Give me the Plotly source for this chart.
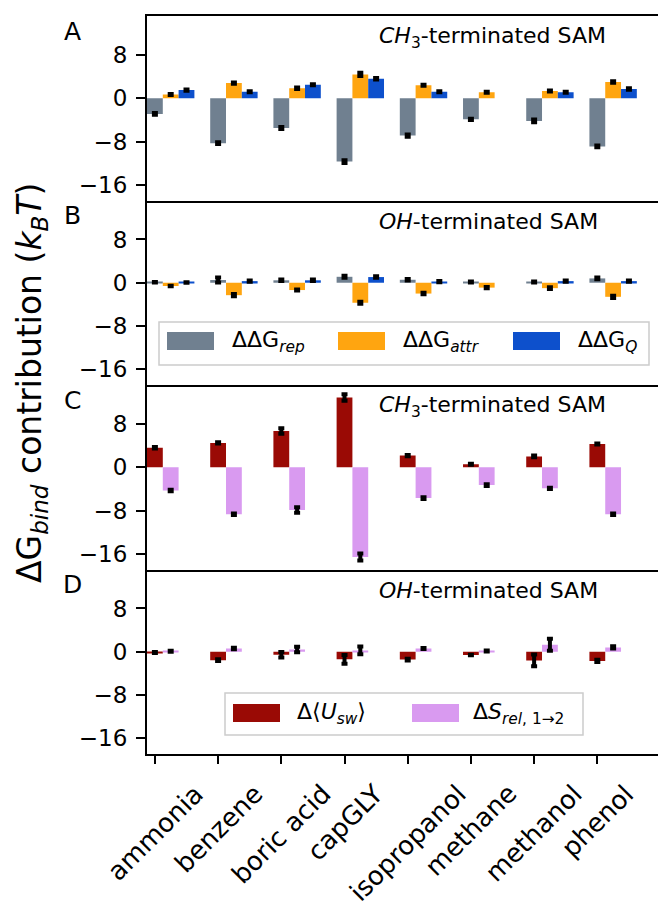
import plotly.graph_objects as go
from plotly.subplots import make_subplots

# ---------------- data ----------------
categories = ["ammonia", "benzene", "boric acid", "capGLY",
              "isopropanol", "methane", "methanol", "phenol"]

# Panel A: CH3-terminated SAM decomposition
A_rep = [-2.9, -8.3, -5.5, -11.7, -6.9, -3.9, -4.2, -8.9]
A_rep_err = [0.15, 0.15, 0.2, 0.25, 0.2, 0.1, 0.25, 0.15]
A_attr = [0.7, 2.8, 1.85, 4.4, 2.4, 1.1, 1.35, 3.0]
A_attr_err = [0.1, 0.1, 0.15, 0.3, 0.1, 0.1, 0.1, 0.15]
A_Q = [1.5, 1.2, 2.5, 3.6, 1.2, None, 1.1, 1.7]
A_Q_err = [0.1, 0.1, 0.1, 0.15, 0.1, None, 0.1, 0.15]

# Panel B: OH-terminated SAM decomposition
B_rep = [0.1, 0.5, 0.45, 1.1, 0.55, 0.15, 0.15, 0.8]
B_rep_err = [0.05, 0.45, 0.15, 0.2, 0.15, 0.1, 0.1, 0.15]
B_attr = [-0.6, -2.3, -1.35, -3.7, -2.0, -0.9, -1.0, -2.6]
B_attr_err = [0.05, 0.2, 0.1, 0.2, 0.15, 0.1, 0.15, 0.2]
B_Q = [0.05, 0.3, 0.45, 1.05, 0.2, None, 0.3, 0.3]
B_Q_err = [0.05, 0.1, 0.15, 0.15, 0.1, None, 0.1, 0.1]

# Panel C: CH3-terminated SAM energy / entropy
C_U = [3.6, 4.5, 6.7, 12.9, 2.15, 0.55, 2.0, 4.3]
C_U_err = [0.15, 0.1, 0.5, 0.6, 0.1, 0.1, 0.15, 0.1]
C_S = [-4.3, -8.7, -7.9, -16.6, -5.7, -3.3, -3.9, -8.7]
C_S_err = [0.15, 0.15, 0.5, 0.65, 0.15, 0.15, 0.1, 0.15]

# Panel D: OH-terminated SAM energy / entropy
D_U = [-0.15, -1.55, -0.55, -1.4, -1.45, -0.6, -1.6, -1.7]
D_U_err = [0.1, 0.15, 0.5, 0.8, 0.15, 0.05, 1.1, 0.2]
D_S = [0.1, 0.6, 0.4, 0.25, 0.6, 0.15, 1.3, 0.8]
D_S_err = [0.1, 0.15, 0.5, 0.7, 0.1, 0.1, 1.1, 0.2]

panel_letters = ["A", "B", "C", "D"]
panel_titles = ["<i>CH</i><sub>3</sub>-terminated SAM",
                "<i>OH</i>-terminated SAM",
                "<i>CH</i><sub>3</sub>-terminated SAM",
                "<i>OH</i>-terminated SAM"]
y_ticks = [-16, -8, 0, 8]
legend_B = ["ΔΔG<sub><i>rep</i></sub>", "ΔΔG<sub><i>attr</i></sub>", "ΔΔG<sub><i>Q</i></sub>"]
legend_D = ["Δ⟨<i>U</i><sub><i>sw</i></sub>⟩", "Δ<i>S</i><sub><i>rel</i>, 1→2</sub>"]
y_title = "ΔG<sub><i>bind</i></sub> contribution (<i>k</i><sub><i>B</i></sub><i>T</i>)"

# ---------------- style ----------------
C_GREY = "#708090"
C_ORANGE = "#FFA510"
C_BLUE = "#0D50CC"
C_RED = "#9A0A05"
C_PINK = "#D99AF0"
FONT = "DejaVu Sans"

W, H = 658, 907
ML, MT, MB = 147, 16, 153
PW = W - ML
PH = H - MT - MB


def px(x):
    return (x - ML) / PW


def py(y):
    return (H - MB - y) / PH


fig = make_subplots(rows=4, cols=1, shared_xaxes=True, vertical_spacing=0)


def add_bar(row, vals, errs, color, offset):
    fig.add_trace(go.Bar(
        x=categories, y=vals, width=0.25, offset=offset,
        marker=dict(color=color, line=dict(width=0)),
        error_y=dict(type="data", array=errs, color="black",
                     thickness=4, width=3),
        showlegend=False), row=row, col=1)


add_bar(1, A_rep, A_rep_err, C_GREY, -0.125)
add_bar(1, A_attr, A_attr_err, C_ORANGE, 0.125)
add_bar(1, A_Q, A_Q_err, C_BLUE, 0.375)
add_bar(2, B_rep, B_rep_err, C_GREY, -0.125)
add_bar(2, B_attr, B_attr_err, C_ORANGE, 0.125)
add_bar(2, B_Q, B_Q_err, C_BLUE, 0.375)
add_bar(3, C_U, C_U_err, C_RED, -0.125)
add_bar(3, C_S, C_S_err, C_PINK, 0.125)
add_bar(4, D_U, D_U_err, C_RED, -0.125)
add_bar(4, D_S, D_S_err, C_PINK, 0.125)

x_range = [-0.125, 7.96]
y_range = [-18.9, 15.2]

for r in range(1, 5):
    fig.update_xaxes(row=r, col=1, range=x_range, showline=True,
                     mirror=False,
                     linecolor="black", linewidth=2, showgrid=False,
                     zeroline=False, showticklabels=False,
                     ticks="outside" if r == 4 else "",
                     ticklen=8, tickwidth=1.5, tickcolor="black")
    fig.update_yaxes(row=r, col=1, range=y_range, tickvals=y_ticks,
                     showline=True, linecolor="black", linewidth=2,
                     showgrid=False, zeroline=False, ticks="outside",
                     ticklen=9, tickwidth=1.5, tickcolor="black",
                     ticklabelstandoff=4,
                     tickfont=dict(family=FONT, size=23, color="black"))
# top frame line of panel A only (no tick marks)
fig.update_xaxes(row=1, col=1, mirror=True)

annotations = []
shapes = []
for i in range(4):
    top = 1 - i * 0.25
    annotations.append(dict(text=panel_letters[i], xref="paper", yref="paper",
                            x=px(72), y=top, yshift=-15, showarrow=False,
                            xanchor="center", yanchor="middle",
                            font=dict(family=FONT, size=25, color="black")))
    annotations.append(dict(text=panel_titles[i], xref="paper", yref="paper",
                            x=px(377), y=top, yshift=-21, showarrow=False,
                            xanchor="left", yanchor="middle",
                            font=dict(family=FONT, size=22, color="black")))

# x tick labels, rotated 45 deg, centred under each tick
for c in categories:
    annotations.append(dict(text=c, xref="x4", yref="paper", x=c, y=0,
                            yshift=-22, showarrow=False, textangle=-45,
                            xanchor="center", yanchor="top",
                            font=dict(family=FONT, size=26, color="black")))

annotations.append(dict(text=y_title, xref="paper", yref="paper",
                        x=px(31), y=py(383), showarrow=False, textangle=-90,
                        xanchor="center", yanchor="middle",
                        font=dict(family=FONT, size=33, color="black")))


def make_legend(box, labels, colors, patch_x, text_x, yc):
    x0, y0, x1, y1 = box
    shapes.append(dict(type="rect", xref="paper", yref="paper",
                       x0=px(x0), x1=px(x1), y0=py(y1), y1=py(y0),
                       line=dict(color="#CCCCCC", width=1.5),
                       fillcolor="rgba(255,255,255,0.85)", layer="above"))
    for lab, col, pxx, tx in zip(labels, colors, patch_x, text_x):
        shapes.append(dict(type="rect", xref="paper", yref="paper",
                           x0=px(pxx), x1=px(pxx + 47), y0=py(yc + 9), y1=py(yc - 9),
                           line=dict(width=0), fillcolor=col, layer="above"))
        annotations.append(dict(text=lab, xref="paper", yref="paper",
                                x=px(tx), y=py(yc), showarrow=False,
                                xanchor="left", yanchor="middle",
                                font=dict(family=FONT, size=22, color="black")))


make_legend((159, 322, 649, 365), legend_B, [C_GREY, C_ORANGE, C_BLUE],
            [167, 338, 513], [230, 401, 576], 341)
make_legend((225, 693, 583, 735), legend_D, [C_RED, C_PINK],
            [233, 412], [295, 471], 713)

fig.update_layout(width=W, height=H, barmode="overlay",
                  margin=dict(l=ML, r=0, t=MT, b=MB),
                  plot_bgcolor="white", paper_bgcolor="white",
                  annotations=annotations, shapes=shapes,
                  font=dict(family=FONT, color="black"))

fig.write_html("out.html", config={"displayModeBar": False},
               post_script="document.body.style.margin='0px';"
                           "document.body.style.padding='0px';")
